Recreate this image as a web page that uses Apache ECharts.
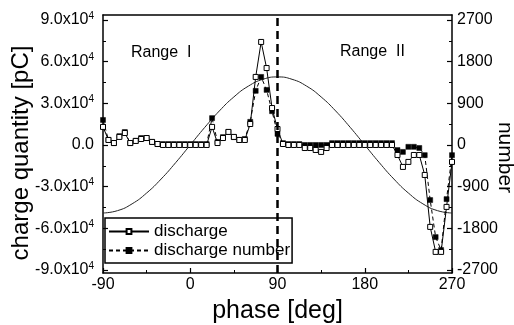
<!DOCTYPE html>
<html>
<head>
<meta charset="utf-8">
<script src="https://cdn.jsdelivr.net/npm/echarts@6/dist/echarts.min.js"></script>
<style>
  html, body { margin: 0; padding: 0; background: #fff; }
  #chart { width: 514px; height: 325px; }
</style>
</head>
<body>
<div id="chart"></div>
<script>
// phase bins (deg), 5.625 deg wide
const phase = [-90, -84.375, -78.75, -73.125, -67.5, -61.875, -56.25, -50.625, -45, -39.375,
  -33.75, -28.125, -22.5, -16.875, -11.25, -5.625, 0, 5.625, 11.25, 16.875,
  22.5, 28.125, 33.75, 39.375, 45, 50.625, 56.25, 61.875, 67.5, 73.125,
  78.75, 84.375, 90, 95.625, 101.25, 106.875, 112.5, 118.125, 123.75, 129.375,
  135, 140.625, 146.25, 151.875, 157.5, 163.125, 168.75, 174.375, 180, 185.625,
  191.25, 196.875, 202.5, 208.125, 213.75, 219.375, 225, 230.625, 236.25, 241.875,
  247.5, 253.125, 258.75, 264.375, 270];
// charge quantity [pC]
const discharge = [13000, 3600, 1400, 5800, 8600, 1400, 2900, 4300, 5000, 2200,
  700, 0, 0, 0, 0, 0, 0, 0, 0, 0,
  13000, 1400, 5000, 9400, 5800, 3600, 3600, 15100, 49000, 74200,
  55400, 26600, 11500, 700, 0, 0, 0, -2200, -2200, -3600,
  -5000, -2200, 0, 0, 0, 0, 0, 0, 0, 0,
  0, 0, 0, 0, -7200, -15800, -12200, -7200, -7200, -21600,
  -59000, -77000, -77000, -44600, -12200];
// discharge number
const dischargeNumber = [540, 110, 40, 190, 280, 40, 90, 150, 150, 65,
  20, 20, 20, 20, 20, 20, 20, 20, 20, 20,
  580, 65, 170, 280, 170, 110, 130, 500, 1170, 1470,
  1190, 730, 240, 40, 20, 20, 20, 0, 0, 0,
  0, 0, 40, 40, 40, 40, 40, 40, 40, 40,
  40, 40, 40, 40, -110, -150, -40, -40, -65, -220,
  -1190, -1990, -2270, -1170, -220];
// applied voltage reference curve (drawn on the charge scale)
const sinePhase = [-90, -75, -60, -45, -30, -15, 0, 15, 30, 45, 60, 75, 90,
  105, 120, 135, 150, 165, 180, 195, 210, 225, 240, 255, 270];
const sineCharge = [-49000, -47300, -42400, -34600, -24500, -12700, 0, 12700, 24500, 34600, 42400, 47300, 49000,
  47300, 42400, 34600, 24500, 12700, 0, -12700, -24500, -34600, -42400, -47300, -49000];

const chargeTicks = [-90000, -60000, -30000, 0, 30000, 60000, 90000];
const chargeMinorTicks = [-75000, -45000, -15000, 15000, 45000, 75000];
const numberTicks = [-2700, -1800, -900, 0, 900, 1800, 2700];
const numberMinorTicks = [-2250, -1350, -450, 450, 1350, 2250];
const boundary = [90];
const rangeLabels = ['Range  I', 'Range  II'];

const FONT = "'Liberation Sans', Arial, sans-serif";
const chargeMin = -92200, chargeMax = 93600;
const numberMin = chargeMin / (90000 / 2700), numberMax = chargeMax / (90000 / 2700);

const chart = echarts.init(document.getElementById('chart'));

const baseY = {
  type: 'value',
  splitLine: { show: false },
  axisLine: { show: true, onZero: false, lineStyle: { color: '#000', width: 1.5 } },
};

chart.setOption({
  animation: false,
  textStyle: { fontFamily: FONT },
  grid: { left: 103, right: 62, top: 15, bottom: 52, containLabel: false, outerBoundsMode: 'none' },
  legend: {
    left: 105, top: 218,
    orient: 'vertical',
    padding: [5, 2, 4, 3],
    borderColor: '#000', borderWidth: 1.5,
    itemWidth: 40, itemHeight: 6, itemGap: 2,
    data: ['discharge', 'discharge number'],
    textStyle: { fontSize: 17, color: '#000', fontFamily: FONT },
  },
  graphic: [
    { type: 'text', left: 131, top: 45, style: { text: rangeLabels[0], fontSize: 16, fontFamily: FONT, fill: '#000' } },
    { type: 'text', left: 340, top: 44, style: { text: rangeLabels[1], fontSize: 16, fontFamily: FONT, fill: '#000' } },
  ],
  xAxis: [{
    type: 'value', min: -90, max: 270, interval: 90,
    name: 'phase [deg]', nameLocation: 'middle', nameGap: 26, nameMoveOverlap: false,
    nameTextStyle: { fontSize: 25, color: '#000', fontFamily: FONT },
    splitLine: { show: false },
    axisLine: { onZero: false, lineStyle: { color: '#000', width: 1.5 } },
    axisTick: { inside: true, length: 5, lineStyle: { color: '#000', width: 1.2 } },
    minorTick: { show: true, splitNumber: 2, length: 3, lineStyle: { color: '#000', width: 1 } },
    axisLabel: { fontSize: 16, color: '#000', margin: 4, fontFamily: FONT },
  }, {
    type: 'value', min: -90, max: 270, position: 'top',
    splitLine: { show: false },
    axisLine: { show: true, onZero: false, lineStyle: { color: '#000', width: 1.5 } },
    axisTick: { show: false }, axisLabel: { show: false },
  }],
  yAxis: [Object.assign({}, baseY, {
    min: chargeMin, max: chargeMax, position: 'left',
    name: 'charge quantity [pC]', nameLocation: 'middle', nameGap: 70, nameRotate: 90, nameMoveOverlap: false,
    nameTextStyle: { fontSize: 24, color: '#000', fontFamily: FONT, padding: [0, 18, 0, 0] },
    axisTick: { inside: true, length: 5, customValues: chargeTicks, lineStyle: { color: '#000', width: 1.2 } },
    axisLabel: {
      customValues: chargeTicks, fontSize: 16, color: '#000', margin: 9, fontFamily: FONT,
      formatter: v => v === 0 ? '0.0' : (v / 1e4).toFixed(1) + 'x10{sup|4}',
      rich: { sup: { fontSize: 10, color: '#000', fontFamily: FONT, verticalAlign: 'bottom', padding: [0, 0, 8, 0] } },
    },
  }), Object.assign({}, baseY, {
    min: numberMin, max: numberMax, position: 'right',
    name: 'number', nameLocation: 'middle', nameGap: 42, nameRotate: 270, nameMoveOverlap: false,
    nameTextStyle: { fontSize: 21, color: '#000', fontFamily: FONT, padding: [0, 0, 0, 27] },
    axisTick: { inside: true, length: 5, customValues: numberTicks, lineStyle: { color: '#000', width: 1.2 } },
    axisLabel: { customValues: numberTicks, fontSize: 16, color: '#000', margin: 5, fontFamily: FONT, formatter: v => String(v) },
  }), Object.assign({}, baseY, {
    min: chargeMin, max: chargeMax, position: 'left',
    axisLine: { show: false, onZero: false }, axisLabel: { show: false },
    axisTick: { inside: true, length: 3, customValues: chargeMinorTicks, lineStyle: { color: '#000', width: 1 } },
  }), Object.assign({}, baseY, {
    min: numberMin, max: numberMax, position: 'right',
    axisLine: { show: false, onZero: false }, axisLabel: { show: false },
    axisTick: { inside: true, length: 3, customValues: numberMinorTicks, lineStyle: { color: '#000', width: 1 } },
  })],
  series: [{
    name: 'voltage',
    type: 'line', yAxisIndex: 0, smooth: true, showSymbol: false,
    data: sinePhase.map((p, i) => [p, sineCharge[i]]),
    lineStyle: { color: '#222', width: 1 },
    markLine: {
      silent: true, symbol: ['none', 'none'], label: { show: false },
      lineStyle: { color: '#000', width: 2.5, type: [8, 5] },
      data: boundary.map(b => ({ xAxis: b })),
    },
  }, {
    name: 'discharge number',
    type: 'line', yAxisIndex: 1,
    data: phase.map((p, i) => [p, dischargeNumber[i]]),
    symbol: 'rect', symbolSize: 5,
    itemStyle: { color: '#000', borderColor: '#000', borderWidth: 0.5 },
    lineStyle: { color: '#000', width: 1, type: [4, 3] },
  }, {
    name: 'discharge',
    type: 'line', yAxisIndex: 0,
    data: phase.map((p, i) => [p, discharge[i]]),
    symbol: 'rect', symbolSize: 5,
    itemStyle: { color: '#fff', borderColor: '#000', borderWidth: 1 },
    lineStyle: { color: '#000', width: 1 },
  }],
});
</script>
</body>
</html>
